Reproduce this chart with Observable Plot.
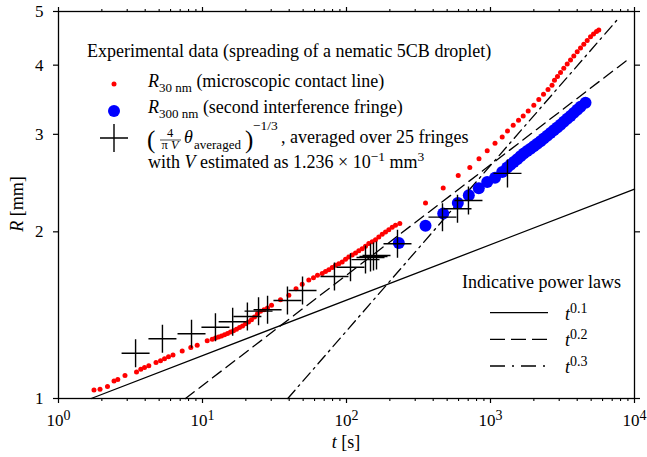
<!DOCTYPE html>
<html><head><meta charset="utf-8">
<script src="https://cdn.jsdelivr.net/npm/d3@7"></script>
<script src="https://cdn.jsdelivr.net/npm/@observablehq/plot@0.6"></script>
<style>body{margin:0;background:#fff}</style>
</head><body><div id="chart"></div>
<script>
// R_30nm (microscopic contact line), t in s, R in mm
const red30T = [1.764,1.942,2.189,2.429,2.581,2.896,3.481,3.728,3.956,4.238,4.755,5.109,5.447,5.807,6.239,7.228,8.294,9.188,10.78,11.68,12.31,12.92,13.55,14.22,14.92,15.65,16.42,17.22,18.07,18.96,19.89,20.86,21.89,22.96,24.09,25.28,26.74,28.28,30.15,34.81,39.76,44.61,49.25,54.72,58.99,62.89,67.82,71.49,75.37,79.57,83.87,88.43,93.35,98.42,103.7,109.5,115.5,121.7,128.5,135.5,142.8,150.8,159.0,167.6,177.0,186.6,196.7,207.7,218.9,234.5,
  353.7,469.5,596.8,718.3,832.0,948.6,1075,1206,1313,1438,1565,1687,1827,1999,2165,2334,2508,2674,2782,2919,3063,3228,3409,3594,3788,4001,4217,4445,4694,4949,5193,5447,5651];
const red30R = [1.036,1.039,1.051,1.076,1.082,1.100,1.116,1.129,1.138,1.146,1.162,1.170,1.180,1.189,1.198,1.218,1.236,1.248,1.271,1.279,1.286,1.292,1.297,1.304,1.311,1.318,1.326,1.334,1.343,1.352,1.364,1.375,1.388,1.404,1.422,1.437,1.446,1.457,1.473,1.508,1.536,1.579,1.609,1.637,1.652,1.669,1.681,1.695,1.709,1.725,1.740,1.752,1.764,1.784,1.801,1.816,1.831,1.848,1.865,1.884,1.905,1.920,1.936,1.957,1.979,1.998,2.018,2.038,2.055,2.070,
  2.255,2.401,2.528,2.614,2.711,2.803,2.892,2.968,3.043,3.116,3.182,3.239,3.307,3.387,3.469,3.546,3.613,3.681,3.758,3.814,3.878,3.947,4.018,4.085,4.154,4.229,4.295,4.362,4.432,4.503,4.553,4.600,4.630];
// R_300nm (second interference fringe)
const blue300T = [230.8,353.7,469.5,592.9,707.0,829.4,948.6,1075,1206,1306,1377,1451,1532,1616,1703,1798,1896,1999,2110,2225,2345,2476,2610,2752,2906,3063,3228,3409,3594,3788,4001,4217,4568];
const blue300R = [1.910,2.051,2.158,2.255,2.328,2.398,2.461,2.505,2.566,2.614,2.644,2.675,2.705,2.739,2.770,2.799,2.826,2.855,2.885,2.915,2.948,2.983,3.017,3.052,3.087,3.123,3.160,3.200,3.239,3.280,3.324,3.366,3.420];
// (4/(pi V) theta_averaged)^(-1/3)
const thetaT = [3.43,5.27,8.39,12.3,16.2,20.5,24.5,28.3,38.9,49.5,82.5,106.6,135.5,146.8,154,161.6,226,464,590,703,1312];
const thetaR = [1.207,1.282,1.309,1.345,1.376,1.406,1.438,1.446,1.503,1.567,1.661,1.726,1.782,1.798,1.805,1.813,1.903,2.126,2.201,2.279,2.550];
// indicative power laws (end points)
const lawNames = ["0.1","0.2","0.3"];
const lawT = [[1.687,10000],[7.62,8895],[39.1,7586]];
const lawR = [[1,2.388],[1,4.085],[1,4.83]];
const lawDash = [null,"11,6","11,5,2,5"];
// ticks
const xMajorTicks = [1,10,100,1000,10000];
const xMinorTicks = [2,3,4,5,6,7,8,9,20,30,40,50,60,70,80,90,200,300,400,500,600,700,800,900,2000,3000,4000,5000,6000,7000,8000,9000];
const yTicks = [1,2,3,4,5];

const red = red30T.map((t,i)=>({t, R: red30R[i]}));
const blue = blue300T.map((t,i)=>({t, R: blue300R[i]}));
const theta = thetaT.map((t,i)=>({t, R: thetaR[i]}));
const lineData = lawNames.map((n,i)=>lawT[i].map((t,j)=>({t, R: lawR[i][j], law:n})));

const crossSymbol = {draw(ctx){ const a=14; ctx.moveTo(-a,0); ctx.lineTo(a,0); ctx.moveTo(0,-a); ctx.lineTo(0,a); }};

const chart = Plot.plot({
  width: 647, height: 457,
  marginLeft: 58, marginRight: 13, marginTop: 11, marginBottom: 59,
  x: {type:"log", domain:[1,10000], label:null},
  y: {type:"log", domain:[1,5], label:null},
  style: {fontFamily:"'Liberation Serif', serif", fontSize:"17px", background:"#fff", color:"#000"},
  marks: [
    ...lineData.map((d,i)=>Plot.line(d, {x:"t", y:"R", stroke:"black", strokeWidth:1.3, strokeDasharray: lawDash[i] || undefined})),
    Plot.dot(red, {x:"t", y:"R", r:2.5, fill:"#ff0000"}),
    Plot.dot(blue, {x:"t", y:"R", r:6, fill:"#0000ff"}),
    Plot.dot(theta, {x:"t", y:"R", r:14, symbol: crossSymbol, stroke:"black", strokeWidth:1.4, fill:"none"}),
    Plot.frame({stroke:"black", strokeWidth:1.3}),
    Plot.axisX({anchor:"bottom", ticks:xMajorTicks, tickSize:5, tickPadding:10, strokeWidth:1.2, label:null, tickFormat: d=>"10^"+Math.round(Math.log10(d))}),
    Plot.axisX({anchor:"bottom", ticks:xMinorTicks, tickSize:3, strokeWidth:1.1, label:null, tickFormat: ()=>""}),
    Plot.axisX({anchor:"top", ticks:xMajorTicks, tickSize:5, strokeWidth:1.2, label:null, tickFormat: ()=>""}),
    Plot.axisX({anchor:"top", ticks:xMinorTicks, tickSize:3, strokeWidth:1.1, label:null, tickFormat: ()=>""}),
    Plot.axisY({anchor:"left", ticks:yTicks, tickSize:5, tickPadding:10, strokeWidth:1.2, label:null, tickFormat: d=>String(d)}),
    Plot.axisY({anchor:"right", ticks:yTicks, tickSize:5, strokeWidth:1.2, label:null, tickFormat: ()=>""})
  ]
});
document.getElementById("chart").appendChild(chart);
const svgEl = chart.tagName.toLowerCase()==="svg" ? chart : chart.querySelector("svg");
const NS = "http://www.w3.org/2000/svg";

// superscript exponents on x tick labels
svgEl.querySelectorAll("text").forEach(t=>{
  const m = (t.textContent||"").match(/^10\^(\d+)$/);
  if (m) {
    t.textContent = "10";
    const ts = document.createElementNS(NS,"tspan");
    ts.setAttribute("dy","-0.42em"); ts.setAttribute("font-size","14px");
    ts.textContent = m[1]; t.appendChild(ts);
  }
});

const svg = d3.select(svgEl);
const g = svg.append("g").attr("font-family","'Liberation Serif', serif").attr("fill","black").attr("text-anchor","start");
function txt(x, y, runs, size=18, attrs={}) {
  const t = g.append("text").attr("x",x).attr("y",y).attr("font-size",size).attr("text-anchor","start");
  for (const k in attrs) t.attr(k, attrs[k]);
  for (const r of runs) {
    const s = t.append("tspan").text(r.t);
    if (r.i) s.attr("font-style","italic");
    if (r.dy) s.attr("dy", r.dy);
    if (r.s) s.attr("font-size", r.s);
  }
  return t;
}
// axis labels
txt(346, 448, [{t:"t",i:1},{t:" [s]"}], 18, {"text-anchor":"middle"});
txt(0, 0, [{t:"R",i:1},{t:" [mm]"}], 18, {"text-anchor":"middle", transform:"translate(23,204) rotate(-90)"});

// legend (experimental data)
txt(87, 57, [{t:"Experimental data (spreading of a nematic 5CB droplet)"}]);
g.append("circle").attr("cx",114).attr("cy",84).attr("r",2.5).attr("fill","#ff0000");
txt(148, 87, [{t:"R",i:1},{t:"30 nm",dy:5,s:13},{t:" (microscopic contact line)",dy:-5}]);
g.append("circle").attr("cx",114).attr("cy",111).attr("r",6).attr("fill","#0000ff");
txt(148, 113, [{t:"R",i:1},{t:"300 nm",dy:5,s:13},{t:" (second interference fringe)",dy:-5}]);
g.append("path").attr("d","M100,138H128M114,124V152").attr("stroke","black").attr("stroke-width",1.4).attr("fill","none");
txt(147, 148, [{t:"("}], 25);
txt(170, 137, [{t:"4"}], 12.5, {"text-anchor":"middle"});
g.append("line").attr("x1",160).attr("x2",181).attr("y1",140).attr("y2",140).attr("stroke","black").attr("stroke-width",0.7);
txt(170, 149, [{t:"π "},{t:"V",i:1}], 12.5, {"text-anchor":"middle"});
txt(184, 143, [{t:"θ",i:1}]);
txt(194, 149, [{t:"averaged"}], 13);
txt(245, 148, [{t:")"}], 25);
txt(253, 130, [{t:"−1/3"}], 13.5);
txt(281, 143, [{t:", averaged over 25 fringes"}]);
txt(148, 168, [{t:"with "},{t:"V",i:1},{t:" estimated as 1.236 × 10"},{t:"−1",dy:-7,s:13.5},{t:" mm",dy:7},{t:"3",dy:-7,s:13.5}]);

// legend (power laws)
txt(462, 288, [{t:"Indicative power laws"}]);
const ly = [312.7, 339.3, 366];
ly.forEach((y,i)=>{
  const l = g.append("line").attr("x1",490).attr("x2",548).attr("y1",y).attr("y2",y).attr("stroke","black").attr("stroke-width",1.3);
  if (lawDash[i]) l.attr("stroke-dasharray", i===1 ? "15,6" : "15,7,2,7");
  txt(565, y+7, [{t:"t",i:1},{t:lawNames[i],dy:-7,s:14}]);
});
</script></body></html>
